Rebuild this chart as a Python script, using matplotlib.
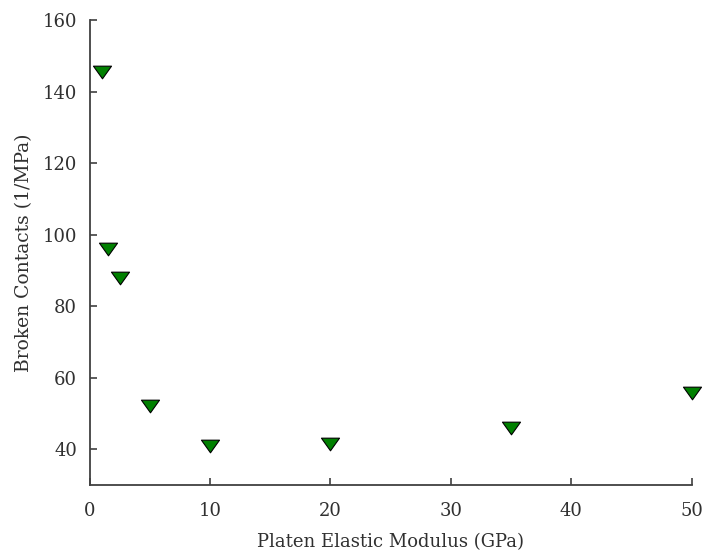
import numpy as np
import matplotlib
matplotlib.use("Agg")
import matplotlib.pyplot as plt
from matplotlib.path import Path

# platen stiffness vs broken contact count
modulus = [1, 1.5, 2.5, 5, 10, 20, 35, 50]
broken = [145.5, 96, 88, 52, 41, 41.6, 46, 55.7]

xticks = [0, 10, 20, 30, 40, 50]
yticks = [40, 60, 80, 100, 120, 140, 160]

plt.rcParams['font.family'] = ['DejaVu Serif']
text_col = '#303030'
axis_col = '#404040'

# flattened downward triangle
tri = Path([(-1, 0.7), (1, 0.7), (0, -0.7), (-1, 0.7)],
           [Path.MOVETO, Path.LINETO, Path.LINETO, Path.CLOSEPOLY])

fig = plt.figure(figsize=(7.06, 5.6), dpi=100)
ax = fig.add_axes([0.1268, 0.1339, 0.8527, 0.8304])

ax.plot(modulus, broken, linestyle='none', marker=tri, markersize=13,
        markerfacecolor='#008000', markeredgecolor='black', markeredgewidth=0.8,
        clip_on=False)

ax.set_xlim(0, 50)
ax.set_ylim(30, 160)
ax.set_xticks(xticks)
ax.set_yticks(yticks)

for s in ['top', 'right']:
    ax.spines[s].set_visible(False)
for s in ['left', 'bottom']:
    ax.spines[s].set_color(axis_col)
    ax.spines[s].set_linewidth(1.3)

ax.tick_params(direction='in', length=5, width=1.2, color=axis_col,
               labelcolor=text_col, labelsize=13, pad=9)
ax.tick_params(axis='x', pad=12)

ax.set_xlabel('Platen Elastic Modulus (GPa)', fontsize=13, color=text_col, labelpad=10)
ax.set_ylabel('Broken Contacts (1/MPa)', fontsize=13.5, color=text_col, labelpad=7)

fig.savefig('out.png', dpi=100)
